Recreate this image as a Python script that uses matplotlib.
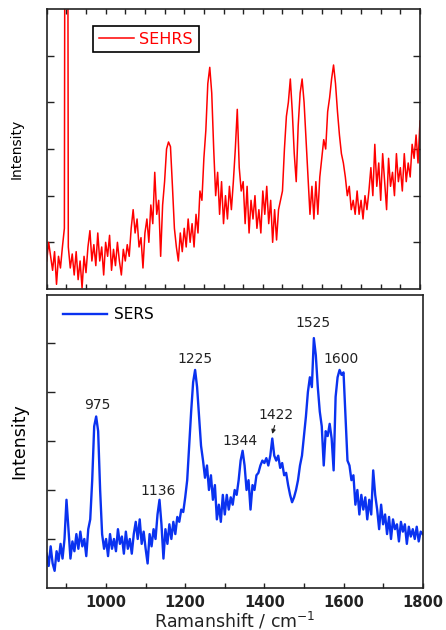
import numpy as np
import matplotlib
matplotlib.use("Agg")
import matplotlib.pyplot as plt
from matplotlib.ticker import MultipleLocator, NullFormatter

# Raman shift grid (cm^-1), 5 cm^-1 steps
shift = np.arange(850, 1801, 5)

# SEHRS intensity (arb. units)
sehrs = [
    0.6, 1.0, 0.7, 0.4, 0.8, 0.1, 0.7, 0.45, 0.9, 1.3,
    30.0, 0.9, 0.45, 0.75, 0.3, 0.8, 0.2, 0.6, 0.02, 0.7,
    0.35, 0.9, 1.25, 0.6, 0.95, 0.5, 1.2, 0.6, 0.9, 0.3,
    1.0, 0.7, 1.15, 0.4, 0.85, 0.5, 1.0, 0.6, 0.3, 0.85,
    0.6, 0.95, 0.7, 1.3, 1.7, 1.2, 1.5, 0.9, 1.1, 0.45,
    1.2, 1.5, 1.0, 1.8, 1.4, 2.5, 1.6, 1.9, 0.7, 1.8,
    2.3, 3.0, 3.15, 3.05, 2.2, 1.3, 0.9, 0.6, 1.2, 0.8,
    1.3, 0.9, 1.5, 1.0, 1.4, 0.9, 1.6, 1.2, 2.1, 1.9,
    2.8, 3.4, 4.4, 4.75, 4.2, 3.0, 2.0, 2.5, 1.6, 2.3,
    1.4, 2.0, 1.5, 2.2, 1.7, 2.3, 3.0, 3.85, 2.6, 2.1,
    2.3, 1.4, 2.2, 1.2, 1.9, 1.5, 2.0, 1.3, 1.7, 1.2,
    2.1, 1.6, 2.2, 1.4, 1.9, 1.0, 1.7, 1.05, 1.7, 1.9,
    2.1, 3.0, 3.7, 4.0, 4.5, 3.8, 2.9, 2.3, 3.5, 4.2,
    4.5, 4.0, 3.2, 2.4, 1.6, 2.2, 1.5, 2.3, 1.6, 2.4,
    2.8, 3.2, 3.0, 3.8, 4.1, 4.5, 4.8, 4.4, 3.8, 3.3,
    2.9, 2.7, 2.4, 2.0, 2.2, 1.7, 1.9, 1.6, 2.1, 1.6,
    1.9, 1.5, 2.0, 1.7, 2.1, 2.6, 2.0, 3.1, 2.2, 2.7,
    1.9, 2.9, 2.3, 1.7, 2.8, 2.2, 2.5, 2.0, 2.9, 2.3,
    2.6, 2.1, 2.9, 2.3, 2.7, 2.4, 3.1, 2.8, 3.3, 2.7,
    3.6,
]

# SERS intensity (arb. units)
sers = [
    0.7, 0.45, 0.85, 0.5, 0.35, 0.75, 0.55, 0.9, 0.6, 1.0,
    1.8, 1.2, 0.6, 0.95, 0.75, 1.1, 0.8, 1.15, 0.85, 1.0,
    0.65, 1.2, 1.4, 2.2, 3.3, 3.5, 3.2, 2.0, 1.1, 0.8,
    1.0, 0.65, 1.1, 0.8, 1.0, 0.75, 1.2, 0.9, 1.05, 0.7,
    1.15, 0.8, 1.0, 0.7, 1.1, 1.35, 1.0, 1.4, 0.9, 1.15,
    0.8, 0.5, 1.1, 0.85, 1.2, 1.0, 1.5, 1.8, 1.3, 0.6,
    1.2, 0.9, 1.3, 1.0, 1.35, 1.1, 1.45, 1.35, 1.6, 1.55,
    1.85, 2.2, 2.9, 3.6, 4.2, 4.45, 4.1, 3.5, 2.9, 2.6,
    2.25, 2.5, 2.0, 2.3, 1.8, 2.1, 1.4, 1.7, 1.35, 1.9,
    1.5, 1.9, 1.6, 1.85, 1.7, 2.0, 1.9, 2.2, 2.6, 2.8,
    2.5, 2.0, 2.2, 1.6, 2.1, 2.0, 2.3, 2.35, 2.5, 2.6,
    2.55, 2.65, 2.5, 2.7, 3.05, 2.7, 2.6, 2.7, 2.45, 2.55,
    2.3, 2.35, 2.1, 1.9, 1.75, 1.85, 2.0, 2.2, 2.5, 2.7,
    3.1, 3.5, 4.0, 4.3, 4.1, 5.1, 4.75, 4.1, 3.6, 3.3,
    2.5, 3.2, 3.1, 3.35, 3.05, 2.4, 3.9, 4.3, 4.45, 4.35,
    4.4, 3.5, 2.6, 2.5, 2.2, 2.3, 1.7, 2.0, 1.5, 1.9,
    1.6, 1.85, 1.4, 1.8, 1.5, 2.4, 1.9, 1.6, 1.2, 1.7,
    1.3, 1.5, 1.1, 1.45, 1.0, 1.4, 1.2, 1.3, 0.95, 1.35,
    1.15, 1.3, 0.9, 1.25, 1.05, 1.2, 1.0, 1.25, 0.95, 1.15,
    1.1,
]

# peak labels on the SERS panel: text, label x, label y
peak_text = ["975", "1136", "1225", "1344", "1422", "1525", "1600"]
peak_x = [978, 1132, 1225, 1338, 1430, 1522, 1594]
peak_y = [3.74, 1.97, 4.67, 3.0, 3.53, 5.4, 4.67]

spine_col = "#222222"

fig = plt.figure(figsize=(4.46, 6.3), dpi=100)

# --- top panel: SEHRS ---
ax1 = fig.add_axes([0.1047, 0.5413, 0.8370, 0.4444])
ax1.plot(shift, sehrs, color="#ff0000", lw=1.1, label="SEHRS")
ax1.set_xlim(850, 1800)
ax1.set_ylim(0, 6)
ax1.xaxis.set_major_locator(MultipleLocator(200))
ax1.xaxis.set_minor_locator(MultipleLocator(50))
ax1.set_yticks([1, 2, 3, 4, 5])
ax1.xaxis.set_major_formatter(NullFormatter())
ax1.yaxis.set_major_formatter(NullFormatter())
ax1.tick_params(which="both", direction="in", top=True, right=True,
                color=spine_col, width=1.0)
ax1.tick_params(axis="x", which="both", length=3.5)
ax1.tick_params(axis="y", which="major", length=5)
ax1.set_ylabel("Intensity", fontsize=10, labelpad=13)
for s in ax1.spines.values():
    s.set_color(spine_col)
    s.set_linewidth(1.2)
leg1 = ax1.legend(loc="upper left", bbox_to_anchor=(0.124, 0.939),
                  borderaxespad=0, fontsize=11.5, handlelength=2.2,
                  handletextpad=0.35, borderpad=0.35, fancybox=False,
                  edgecolor="black", framealpha=1, labelcolor="#ff0000")
leg1.get_frame().set_linewidth(1.2)

# --- bottom panel: SERS ---
ax2 = fig.add_axes([0.1047, 0.0667, 0.8430, 0.4651])
ax2.plot(shift, sers, color="#0a32f0", lw=1.7, label="SERS")
ax2.set_xlim(850, 1800)
ax2.set_ylim(0, 5.98)
ax2.set_xticks([1000, 1200, 1400, 1600, 1800])
ax2.set_xticks([900, 1100, 1300, 1500, 1700], minor=True)
ax2.set_yticks([1, 3, 5])
ax2.set_yticks([2, 4], minor=True)
ax2.yaxis.set_major_formatter(NullFormatter())
ax2.tick_params(which="both", direction="in", color=spine_col, width=1.0)
ax2.tick_params(axis="x", which="both", length=3.5, pad=5,
                labelsize=10.5, labelcolor="#222222")
ax2.tick_params(axis="y", which="both", length=5.5)
for lab in ax2.get_xticklabels():
    lab.set_fontweight("bold")
ax2.set_xlabel("Ramanshift / cm$^{-1}$", fontsize=12.5, labelpad=0,
               color="#222222")
ax2.set_ylabel("Intensity", fontsize=12.5, labelpad=10)
for s in ax2.spines.values():
    s.set_color(spine_col)
    s.set_linewidth(1.2)
ax2.legend(loc="upper left", bbox_to_anchor=(0.043, 0.958), borderaxespad=0,
           borderpad=0, fontsize=11, handlelength=2.9, handletextpad=0.45,
           frameon=False)

for t, x, y in zip(peak_text, peak_x, peak_y):
    ax2.text(x, y, t, ha="center", va="center", fontsize=10, color="#222222")
ax2.annotate("", xy=(1418, 3.09), xytext=(1428, 3.37),
             arrowprops=dict(arrowstyle="-|>", color="#222222", lw=0.8,
                             mutation_scale=6))

fig.savefig("out.png", dpi=100)
